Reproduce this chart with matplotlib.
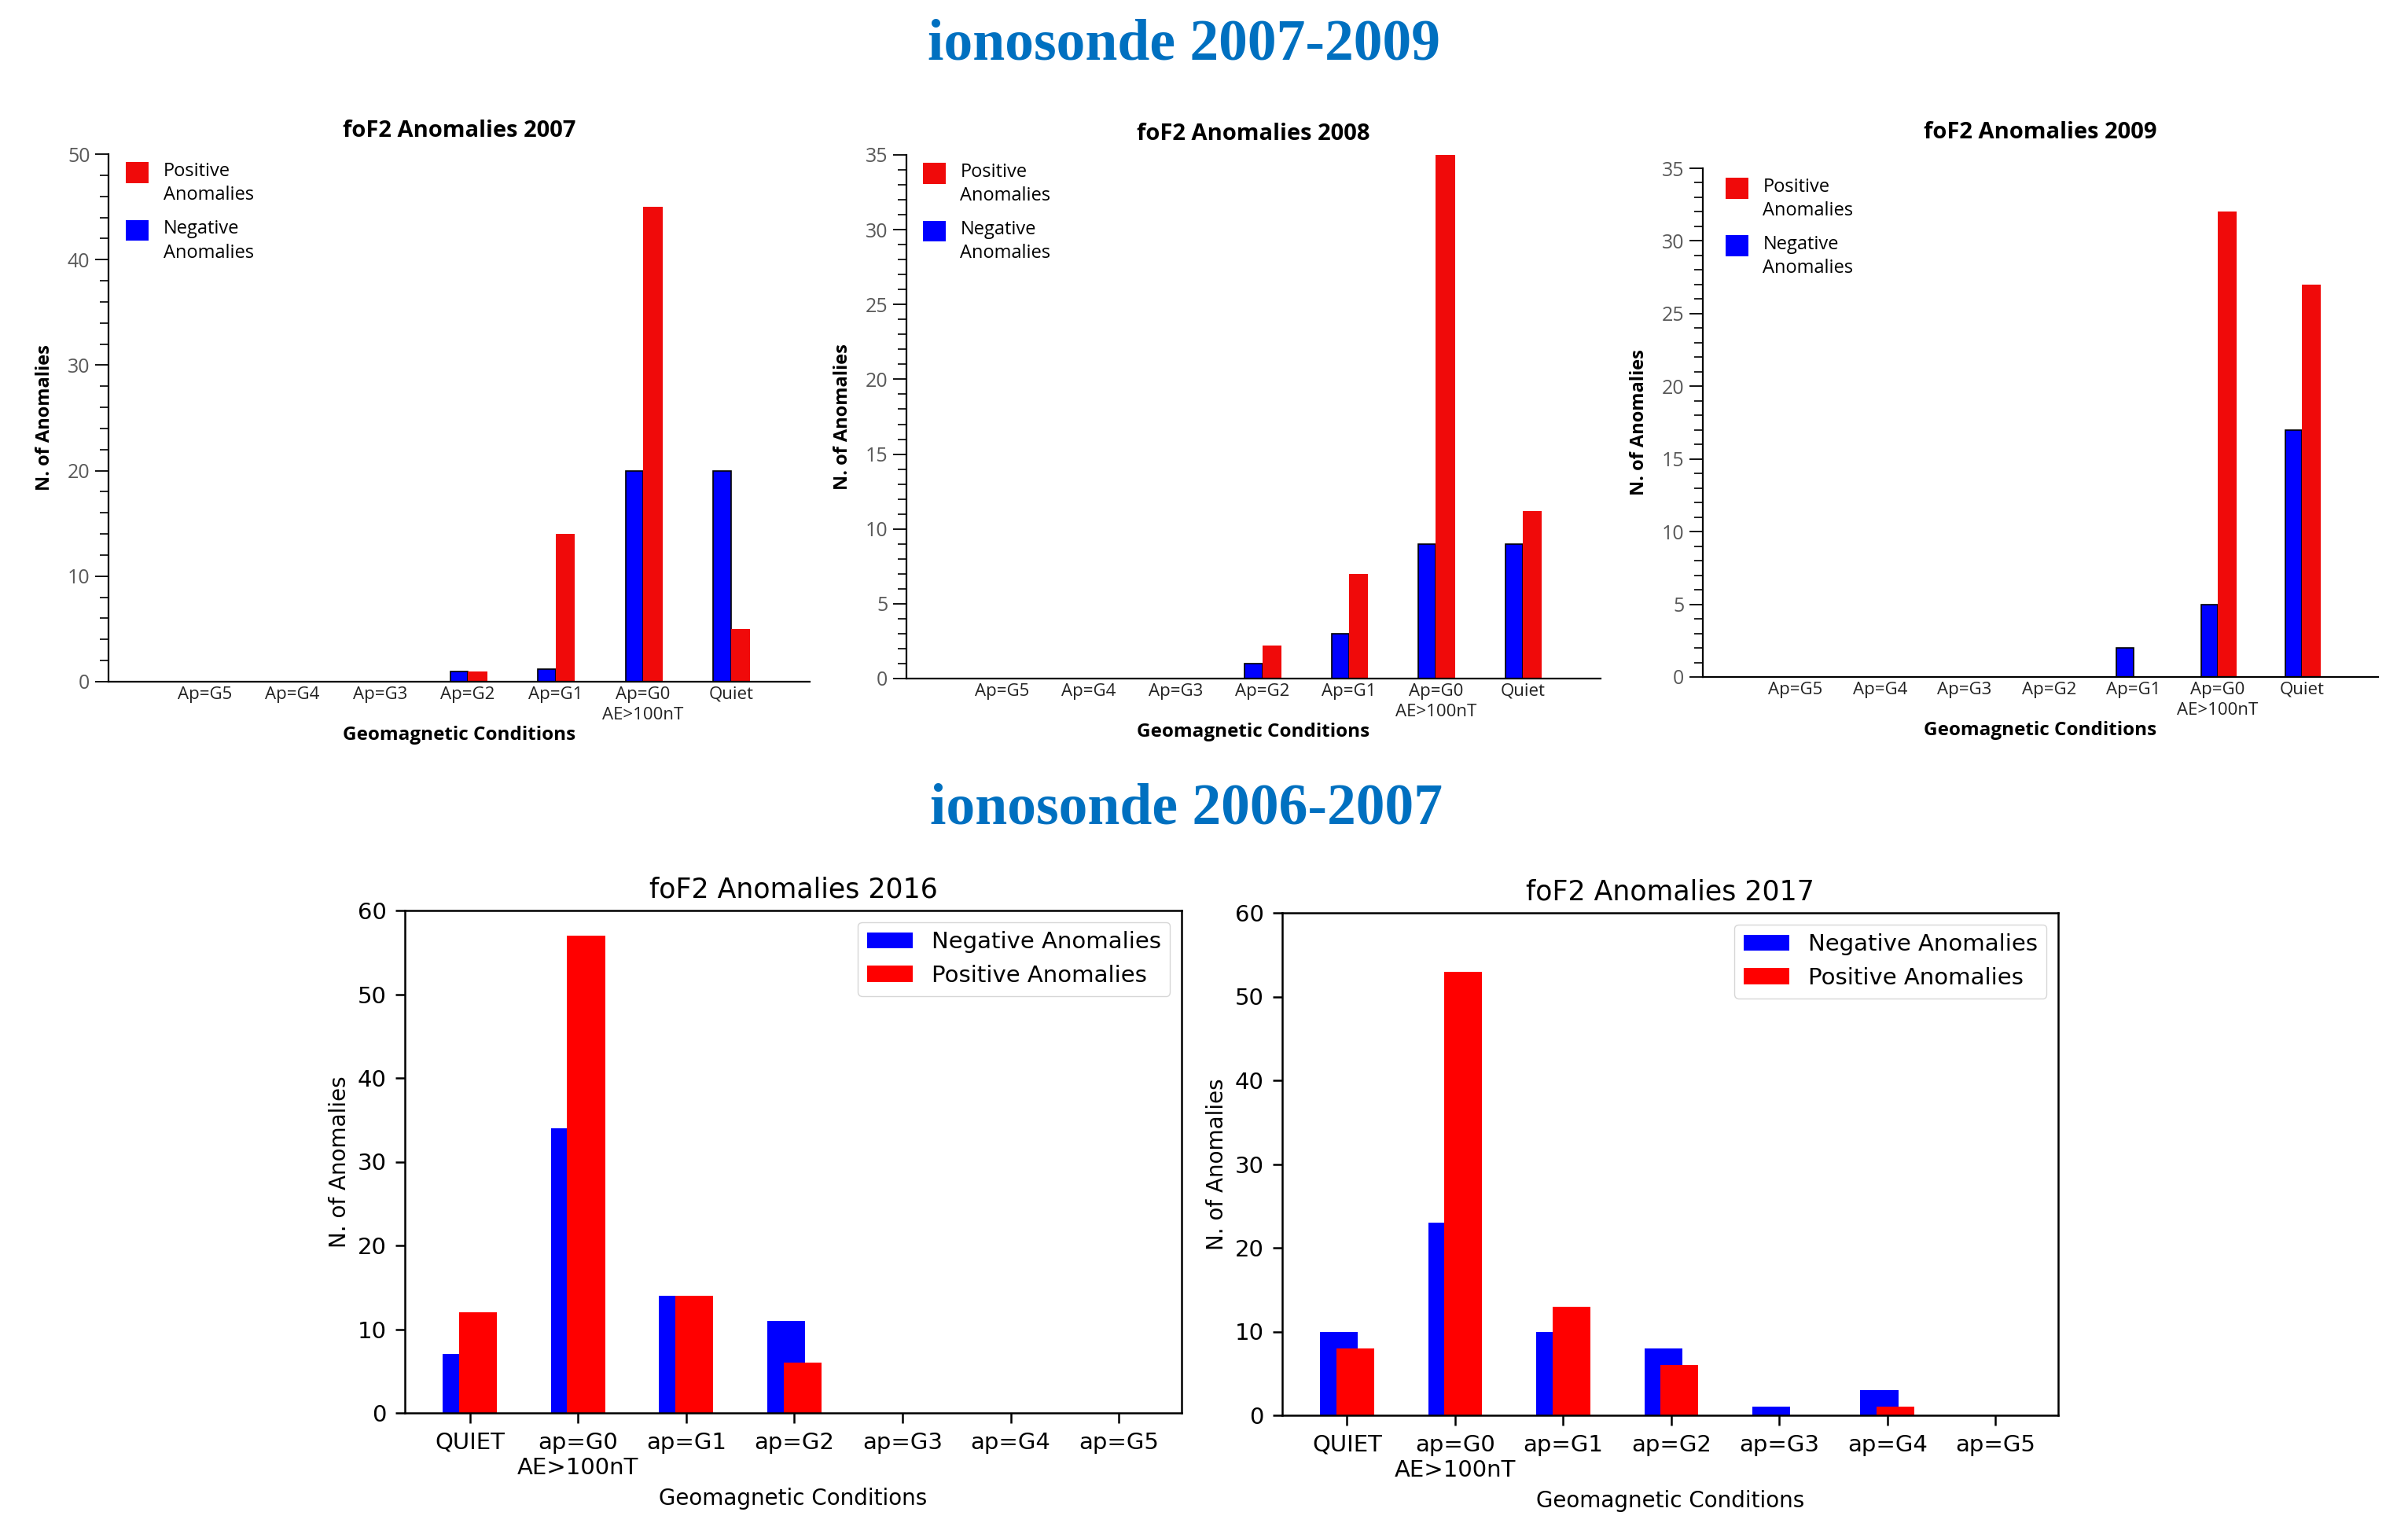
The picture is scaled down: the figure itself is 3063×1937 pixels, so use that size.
import numpy as np
import matplotlib
matplotlib.use("Agg")
import matplotlib.pyplot as plt
from matplotlib.patches import Patch, Rectangle
from matplotlib.legend_handler import HandlerPatch
from matplotlib.ticker import MultipleLocator

# categories
cats_top = ['Ap=G5', 'Ap=G4', 'Ap=G3', 'Ap=G2', 'Ap=G1', 'Ap=G0\nAE>100nT', 'Quiet']
cats_bottom = ['QUIET', 'ap=G0\nAE>100nT', 'ap=G1', 'ap=G2', 'ap=G3', 'ap=G4', 'ap=G5']

# ionosonde 2007-2009 (negative / positive anomalies)
neg_2007 = [0, 0, 0, 1, 1.2, 20, 20]
pos_2007 = [0, 0, 0, 1, 14, 45, 5]
neg_2008 = [0, 0, 0, 1, 3, 9, 9]
pos_2008 = [0, 0, 0, 2.2, 7, 35, 11.2]
neg_2009 = [0, 0, 0, 0, 2, 5, 17]
pos_2009 = [0, 0, 0, 0, 0, 32, 27]

# ionosonde 2006-2007 panels (2016 / 2017)
neg_2016 = [7, 34, 14, 11, 0, 0, 0]
pos_2016 = [12, 57, 14, 6, 0, 0, 0]
neg_2017 = [10, 23, 10, 8, 1, 3, 0]
pos_2017 = [8, 53, 13, 6, 0, 1, 0]

W, H = 3063, 1937
fig = plt.figure(figsize=(W / 100, H / 100), dpi=100)


def px_axes(left, top, right, bottom):
    # pixel box -> figure fraction
    return fig.add_axes([left / W, 1 - bottom / H, (right - left) / W, (bottom - top) / H])


class UpPatch(HandlerPatch):
    # legend square lined up with the first text line, not the middle of the label
    def create_artists(self, legend, orig_handle, xdescent, ydescent, width, height,
                       fontsize, trans):
        p = Rectangle((-xdescent, -ydescent + 0.62 * fontsize), width, height,
                      facecolor=orig_handle.get_facecolor(), linewidth=0)
        p.set_transform(trans)
        return [p]


TOPFONT = 'Open Sans'


def top_chart(box, neg, pos, ymax, major, minor, year, leg_xy, title_pad):
    ax = px_axes(*box)
    x = np.arange(len(cats_top))
    ax.bar(x - 0.1, neg, 0.2, color='#0000ff', edgecolor='black', linewidth=1.2)
    ax.bar(x + 0.11, pos, 0.22, color='#f00a0a', linewidth=0)
    ax.set_xlim(-1.1, 6.9)
    ax.set_ylim(0, ymax)
    for s in ['top', 'right']:
        ax.spines[s].set_visible(False)
    ax.spines['left'].set_linewidth(1.6)
    ax.spines['bottom'].set_linewidth(1.6)
    ax.yaxis.set_major_locator(MultipleLocator(major))
    ax.yaxis.set_minor_locator(MultipleLocator(minor))
    ax.tick_params(axis='y', which='major', length=12, width=1.3, labelsize=18,
                   labelcolor='#595959', pad=5)
    ax.tick_params(axis='y', which='minor', length=8, width=1.2)
    ax.set_xticks(x)
    ax.set_xticklabels(cats_top, fontsize=16, family=TOPFONT, color='#222222',
                       linespacing=1.35)
    ax.tick_params(axis='x', length=0, pad=4)
    for lab in ax.get_yticklabels():
        lab.set_family(TOPFONT)
    ax.set_title('foF2 Anomalies ' + year, fontsize=21, fontweight='bold',
                 family=TOPFONT, pad=title_pad)
    ax.set_xlabel('Geomagnetic Conditions', fontsize=17.5, fontweight='bold',
                  family=TOPFONT, labelpad=2)
    ax.set_ylabel('N. of Anomalies', fontsize=17, fontweight='bold', family=TOPFONT,
                  labelpad=12)
    handles = [Patch(facecolor='#f00a0a'), Patch(facecolor='#0000ff')]
    leg = ax.legend(handles, ['Positive\nAnomalies', 'Negative\nAnomalies'], loc='upper left',
                    bbox_to_anchor=leg_xy, frameon=False, borderaxespad=0, borderpad=0,
                    handlelength=1.2, handleheight=1.35, handletextpad=0.8, labelspacing=0.8,
                    prop={'family': TOPFONT, 'size': 17},
                    handler_map={Patch: UpPatch()})
    for t in leg.get_texts():
        t.set_linespacing(1.35)
    return ax


def bottom_chart(box, neg, pos, year):
    ax = px_axes(*box)
    x = np.arange(len(cats_bottom))
    ax.bar(x - 0.075, neg, 0.35, color='blue', label='Negative Anomalies')
    ax.bar(x + 0.075, pos, 0.35, color='red', label='Positive Anomalies')
    ax.set_xlim(-0.6, 6.58)
    ax.set_ylim(0, 60)
    ax.set_yticks(np.arange(0, 61, 10))
    ax.set_xticks(x)
    ax.set_xticklabels(cats_bottom)
    ax.tick_params(labelsize=21, length=9, width=1.8, pad=8)
    for s in ax.spines.values():
        s.set_linewidth(1.8)
    ax.set_title('foF2 Anomalies ' + year, fontsize=25, pad=12)
    ax.set_xlabel('Geomagnetic Conditions', fontsize=20, labelpad=8)
    ax.set_ylabel('N. of Anomalies', fontsize=20, labelpad=6)
    ax.legend(loc='upper right', fontsize=21)
    return ax


top_chart((138, 196, 1030, 867), neg_2007, pos_2007, 50, 10, 2, '2007', (0.025, 0.985), 16)
top_chart((1153, 197, 2036, 863), neg_2008, pos_2008, 35, 5, 1, '2008', (0.024, 0.985), 14)
top_chart((2166, 214, 3025, 861), neg_2009, pos_2009, 35, 5, 1, '2009', (0.034, 0.982), 27)

bottom_chart((515, 1158, 1503, 1797), neg_2016, pos_2016, '2016')
bottom_chart((1631, 1161, 2618, 1800), neg_2017, pos_2017, '2017')

fig.text(1506 / W, 1 - 58 / H, 'ionosonde 2007-2009', ha='center', va='center',
         fontsize=53, fontweight='bold', family='Liberation Serif', color='#0070c0')
fig.text(1509 / W, 1 - 1030 / H, 'ionosonde 2006-2007', ha='center', va='center',
         fontsize=53, fontweight='bold', family='Liberation Serif', color='#0070c0')

fig.savefig('out.png', dpi=100, facecolor='white')
